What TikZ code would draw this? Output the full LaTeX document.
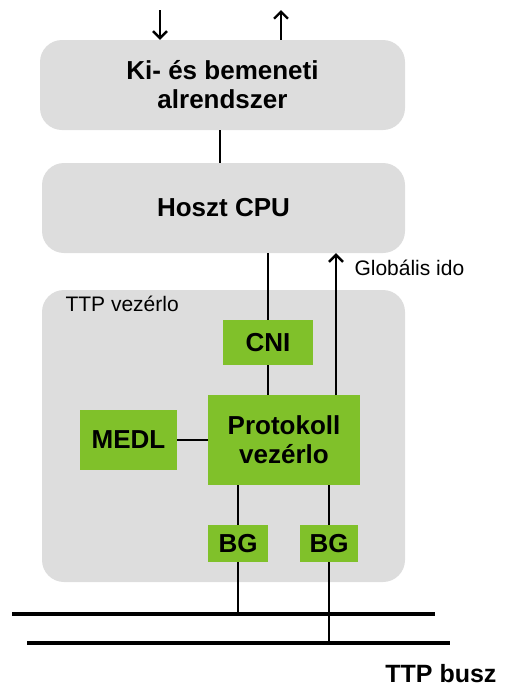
\documentclass[tikz,border=0pt]{standalone}
\usepackage{fontspec}
\setmainfont{Liberation Sans}
\usetikzlibrary{arrows.meta}
\definecolor{boxgray}{HTML}{DDDDDD}
\definecolor{blockgreen}{HTML}{80C12A}

\begin{document}
\begin{tikzpicture}[x=1pt,y=-1pt]
\tikzset{panel/.style = {fill=boxgray,rounded corners=22pt,inner sep=0pt,align=center,font=\fontsize{26}{29}\selectfont\bfseries}}
\tikzset{block/.style = {fill=blockgreen,inner sep=0pt,align=center,font=\fontsize{26}{29}\selectfont\bfseries}}
\tikzset{link/.style = {line width=2pt}}
\tikzset{flow/.style = {line width=2.4pt,-{Straight Barb[length=7pt,width=14pt]}}}
\tikzset{bus/.style = {line width=4pt}}
\useasboundingbox (0,0) rectangle (510,686);
% panels
\node[panel,minimum width=365pt,minimum height=90pt] (io) at (222.5,85) {Ki- és bemeneti\\alrendszer};
\node[panel,minimum width=363pt,minimum height=90pt] (cpu) at (223.5,208) {Hoszt CPU};
\node[panel,minimum width=363pt,minimum height=292pt] (ttp) at (223.5,436) {};
\node[anchor=base west,font=\fontsize{21}{24}\selectfont] (ttplabel) at (62,311) {TTP vezérlo};
% blocks
\node[block,minimum width=90pt,minimum height=45pt] (cni) at (268,342.5) {CNI};
\node[block,minimum width=152pt,minimum height=90pt] (proto) at (284,440) {Protokoll\\vezérlo};
\node[block,minimum width=97pt,minimum height=60pt] (medl) at (128.5,440) {MEDL};
\node[block,minimum width=60pt,minimum height=37pt] (bga) at (238,543.5) {BG};
\node[block,minimum width=58pt,minimum height=37pt] (bgb) at (329,543.5) {BG};
% free ends
\coordinate (inx) at (160,10);
\coordinate (outx) at (281,10);
\coordinate (gclk) at (336,395);
\coordinate (busaw) at (12,614);
\coordinate (busae) at (435,614);
\coordinate (busbw) at (27,643);
\coordinate (busbe) at (450,643);
% connectors
\draw[flow] (inx) -- (inx |- io.north);
\draw[flow] (outx |- io.north) -- (outx);
\draw[link] (io.south -| 220,0) -- (cpu.north -| 220,0);
\draw[link] (cni.north |- cpu.south) -- (cni.north);
\draw[link] (cni.south) -- (cni.south |- proto.north);
\draw[flow] (gclk) -- (gclk |- cpu.south);
\draw[link] (medl.east) -- (medl.east -| proto.west);
\draw[link] (bga.north |- proto.south) -- (bga.north);
\draw[link] (bgb.north |- proto.south) -- (bgb.north);
\draw[link] (bga.south) -- (bga.south |- busaw);
\draw[link] (bgb.south) -- (bgb.south |- busbw);
% busz
\draw[bus] (busaw) -- (busae);
\draw[bus] (busbw) -- (busbe);
\node[anchor=base west,font=\fontsize{21}{24}\selectfont] (gclklabel) at (351,275) {Globális ido};
\node[anchor=base east,font=\fontsize{25}{28}\selectfont\bfseries] (buslabel) at (500,682) {TTP busz};
\end{tikzpicture}
\end{document}
